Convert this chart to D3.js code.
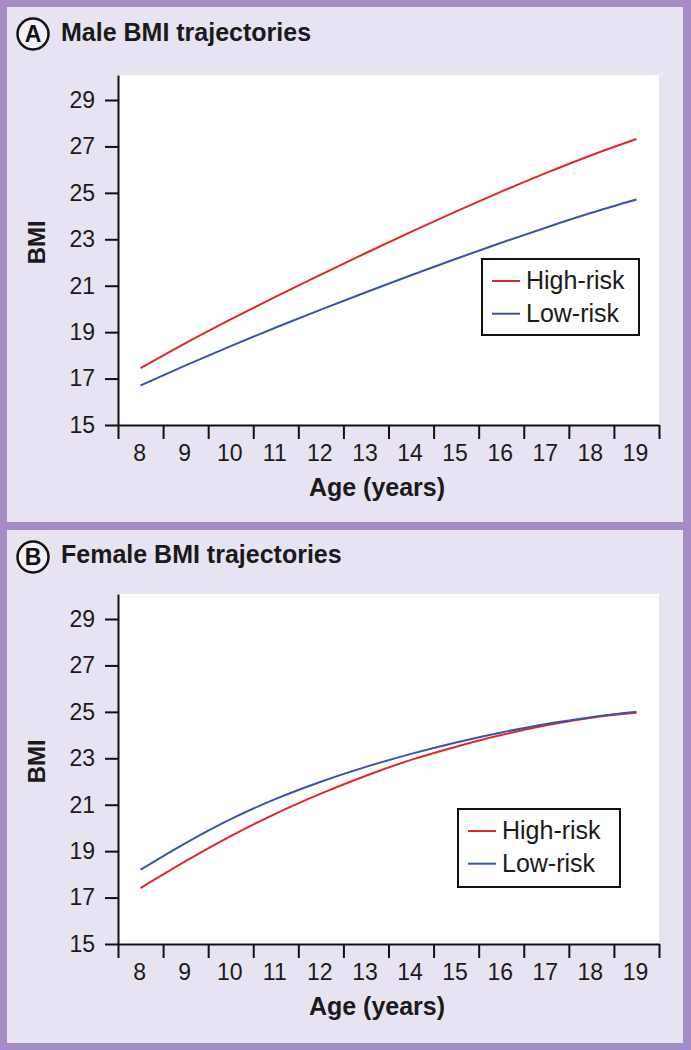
<!DOCTYPE html>
<html><head><meta charset="utf-8">
<script src="https://cdn.jsdelivr.net/npm/d3@7"></script>
<style>html,body{margin:0;padding:0;background:#a58cc4;} svg{display:block;}</style>
</head><body><svg id="c" width="691" height="1050"></svg>
<script>
// ---- data ----
const ages = [8, 9, 10, 11, 12, 13, 14, 15, 16, 17, 18, 19];
const maleHighRisk   = [17.45, 18.53, 19.55, 20.53, 21.48, 22.41, 23.32, 24.2, 25.05, 25.86, 26.62, 27.32];
const maleLowRisk    = [16.7, 17.57, 18.4, 19.2, 19.97, 20.72, 21.45, 22.16, 22.85, 23.51, 24.14, 24.72];
const femaleHighRisk = [17.41, 18.57, 19.65, 20.62, 21.48, 22.25, 22.93, 23.5, 24.0, 24.42, 24.75, 24.96];
const femaleLowRisk  = [18.2, 19.35, 20.38, 21.25, 21.99, 22.63, 23.19, 23.68, 24.11, 24.48, 24.77, 25.0];
const yTickValues = [15, 17, 19, 21, 23, 25, 27, 29];
const xTickLabels = ["8","9","10","11","12","13","14","15","16","17","18","19"];
const seriesLabels = ["High-risk", "Low-risk"];
const panelTitles = ["Male BMI trajectories", "Female BMI trajectories"];
const panelLetters = ["A", "B"];
const xTitle = "Age (years)";
const yTitle = "BMI";

// ---- style / layout ----
const colors = ["#e3262c", "#3a54a4"];
const FONT = "'Liberation Sans', Arial, Helvetica, sans-serif";
const panels = [
  { series: [maleHighRisk, maleLowRisk], top: 7, bottom: 522, plotTop: 75, plotBottom: 425, titleY: 41, circleY: 34,
    legend: { x: 482, y: 259, w: 157, h: 76 } },
  { series: [femaleHighRisk, femaleLowRisk], top: 530, bottom: 1043, plotTop: 594, plotBottom: 944, titleY: 563, circleY: 557,
    legend: { x: 458, y: 809, w: 162, h: 78 } }
];
const plotLeft = 118, plotRight = 659;

const svg = d3.select("#c");
svg.append("rect").attr("width", 691).attr("height", 1050).attr("fill", "#a58cc4");

panels.forEach((p, i) => {
  const g = svg.append("g");
  g.append("rect").attr("x", 7).attr("y", p.top).attr("width", 676).attr("height", p.bottom - p.top)
    .attr("fill", "#e8e3f0");

  // title
  g.append("circle").attr("cx", 33).attr("cy", p.circleY).attr("r", 15.5)
    .attr("fill", "#f3f0f7").attr("stroke", "#111").attr("stroke-width", 2.5);
  g.append("text").attr("x", 33).attr("y", p.circleY + 8.2).attr("text-anchor", "middle")
    .attr("font-family", FONT).attr("font-weight", "bold").attr("font-size", 23).attr("fill", "#111")
    .text(panelLetters[i]);
  g.append("text").attr("x", 61).attr("y", p.titleY)
    .attr("font-family", FONT).attr("font-weight", "bold").attr("font-size", 25).attr("fill", "#1a1a1a")
    .text(panelTitles[i]);

  // scales
  const x = d3.scaleLinear().domain([7.5, 19.5]).range([plotLeft, plotRight]);
  const yTopVal = 15 + (29 - 15) * (p.plotBottom - p.plotTop) / 325;
  const y = d3.scaleLinear().domain([15, yTopVal]).range([p.plotBottom, p.plotTop]);

  // plot bg
  g.append("rect").attr("x", plotLeft).attr("y", p.plotTop)
    .attr("width", plotRight - plotLeft).attr("height", p.plotBottom - p.plotTop).attr("fill", "#fff");

  // y axis
  const ya = g.append("g").attr("transform", `translate(${plotLeft},0)`)
    .call(d3.axisLeft(y).tickValues(yTickValues).tickSize(13).tickSizeOuter(0).tickPadding(10));
  ya.select(".domain").attr("stroke", "#111").attr("stroke-width", 2);
  ya.selectAll(".tick line").attr("stroke", "#111").attr("stroke-width", 2);
  ya.selectAll(".tick text").attr("font-family", FONT).attr("font-size", 23).attr("fill", "#1a1a1a");

  // x axis: tick marks at band edges
  const edges = d3.range(7.5, 19.51, 1);
  const xa = g.append("g").attr("transform", `translate(0,${p.plotBottom})`)
    .call(d3.axisBottom(x).tickValues(edges).tickSize(14).tickSizeOuter(0).tickFormat(""));
  xa.select(".domain").attr("stroke", "#111").attr("stroke-width", 2);
  xa.selectAll(".tick line").attr("stroke", "#111").attr("stroke-width", 2);
  // x labels at centers
  const xl = g.append("g").attr("transform", `translate(-1.5,${p.plotBottom})`)
    .call(d3.axisBottom(x).tickValues(ages).tickSize(0).tickPadding(20).tickFormat((d, k) => xTickLabels[k]));
  xl.select(".domain").remove();
  xl.selectAll(".tick text").attr("font-family", FONT).attr("font-size", 23).attr("fill", "#1a1a1a");

  // axis titles
  g.append("text").attr("x", 377).attr("y", p.plotBottom + 71).attr("text-anchor", "middle")
    .attr("font-family", FONT).attr("font-weight", "bold").attr("font-size", 25).attr("fill", "#1a1a1a")
    .text(xTitle);
  g.append("text").attr("transform", `translate(45,${y(23) + 3}) rotate(-90)`).attr("text-anchor", "middle")
    .attr("font-family", FONT).attr("font-weight", "bold").attr("font-size", 24).attr("fill", "#1a1a1a")
    .text(yTitle);

  // lines
  const line = d3.line().x((d, k) => x(ages[k])).y(d => y(d)).curve(d3.curveMonotoneX);
  p.series.forEach((s, k) => {
    g.append("path").datum(s).attr("d", line).attr("fill", "none")
      .attr("stroke", colors[k]).attr("stroke-width", 2);
  });

  // legend
  const L = p.legend;
  const lg = g.append("g").attr("transform", `translate(${L.x},${L.y})`);
  lg.append("rect").attr("width", L.w).attr("height", L.h).attr("fill", "#fff")
    .attr("stroke", "#111").attr("stroke-width", 2);
  seriesLabels.forEach((lab, k) => {
    const cy = 22 + k * 32.7;
    lg.append("line").attr("x1", 10).attr("x2", 38).attr("y1", cy).attr("y2", cy)
      .attr("stroke", colors[k]).attr("stroke-width", 2);
    lg.append("text").attr("x", 44).attr("y", cy + 8.3)
      .attr("font-family", FONT).attr("font-size", 25).attr("fill", "#1a1a1a").text(lab);
  });
});
</script>
</body></html>
